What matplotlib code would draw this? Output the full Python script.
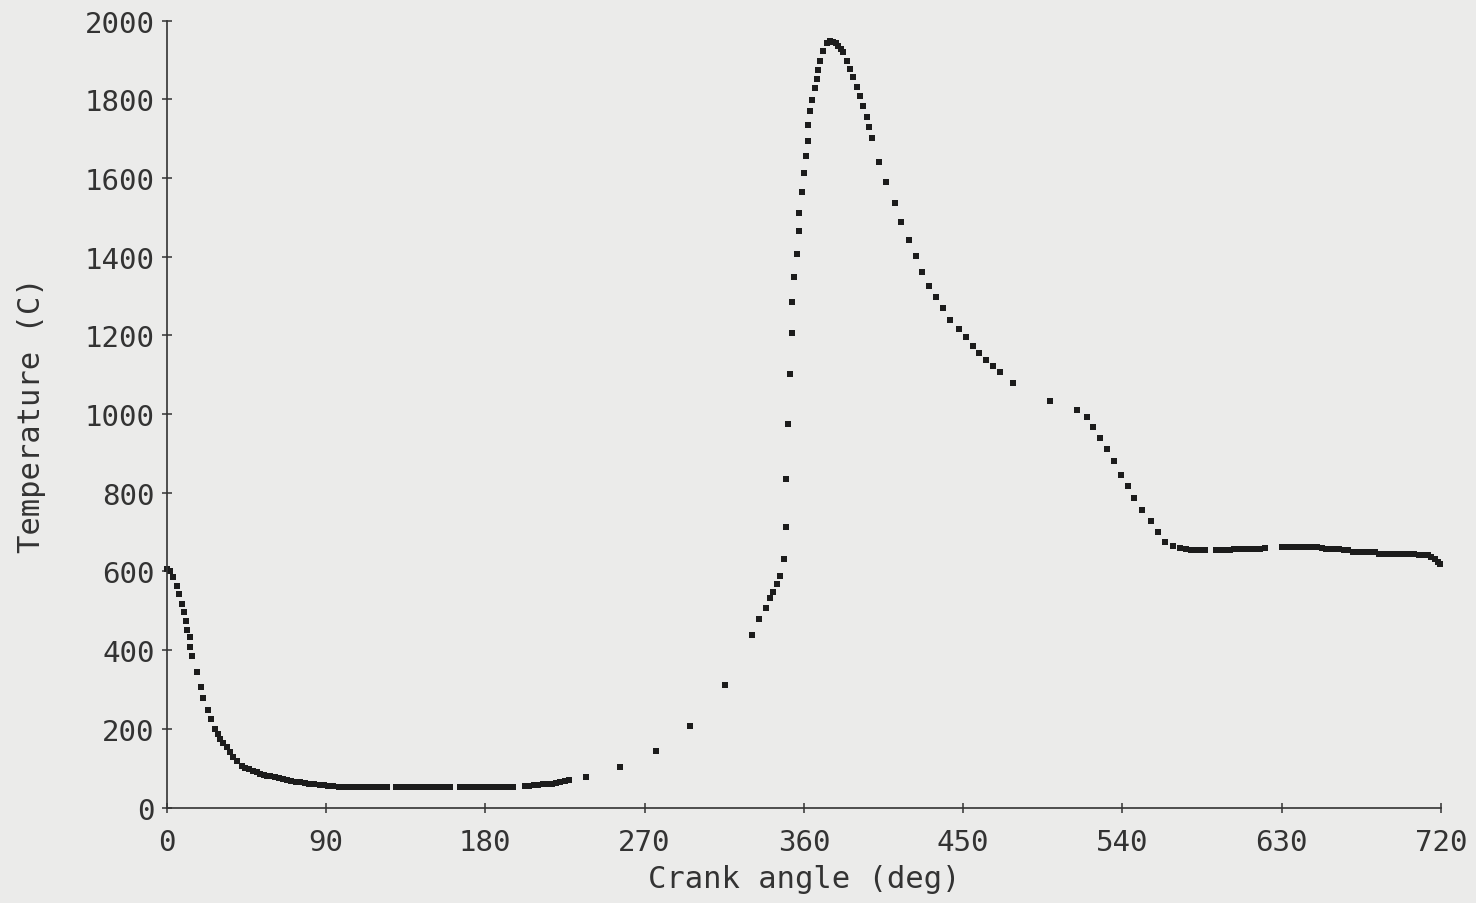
import numpy as np
import matplotlib.pyplot as plt

# Gas temperature vs crank angle, one dot per logged sample
ca_early = [0, 1.9, 3.7, 5.6, 6.9, 8.5, 9.8, 10.7, 11.6, 13.2, 13.3, 14.5,
            17.1, 19.5, 20.7, 23.5, 24.9, 27.3, 29, 30.1, 32, 33.9, 35.7,
            37.6, 40, 42.4, 44.5, 46.7, 48.9, 51, 53, 55, 56.5, 58.5, 61,
            63.5, 65.9, 68, 70.5, 73, 75.3, 78, 80.5, 83, 86.6, 89, 91, 94.1]
t_early = [605, 602, 585, 564, 543, 517, 496, 475, 452, 433, 409, 384,
           344, 307, 278, 248, 225, 200, 186, 175, 163, 153, 140,
           128, 117, 106, 101, 97, 94, 90, 86, 83, 81, 79, 77,
           74, 72, 70, 68, 66, 64, 62, 60, 59, 57, 57, 55, 54]

ca_intake = [97.5, 100, 102.5, 105, 107.5, 110, 112.5, 115, 117.5, 120, 122.5, 124.5,
             129.5, 132, 134.5, 137, 139.5, 142, 144.5, 147, 149.5, 152, 154.5, 157, 160,
             166, 168.5, 171, 173.5, 176, 178.5, 181, 183.5, 186, 188.5, 191, 193.5, 195.5,
             202.5, 205, 207.5, 210, 212.5, 215, 217.5, 220, 222.5, 225, 227.5]
t_intake = [52, 52, 52, 52, 52, 52, 52, 52, 52, 52, 52, 52,
            52, 52, 52, 52, 52, 52, 52, 52, 52, 52, 52, 52, 52,
            52, 52, 52, 52, 52, 52, 52, 52, 52, 52, 52, 52, 52,
            54, 56, 57, 58, 59, 60, 61, 63, 65, 68, 71]

ca_comp = [237, 256.4, 276.7, 295.5, 315.4, 330.8, 334.6, 338.4, 340.8, 342.4,
           344.6, 346.5, 348.8, 349.9, 349.9, 350.8, 352.2, 353.4, 353.4, 354.6,
           355.9, 357.2, 357.2, 358.8, 360.1, 361.2, 362.1, 362.5, 363.4, 364.7,
           366.3, 367.6, 368.0]
t_comp = [77, 102, 143, 208, 311, 439, 479, 508, 532, 548,
          568, 589, 632, 712, 834, 975, 1102, 1206, 1285, 1349,
          1407, 1464, 1512, 1565, 1612, 1655, 1694, 1735, 1771, 1799,
          1828, 1851, 1874]

ca_comb = [369.1, 371, 372.9, 374.7, 376.6, 378, 379.4, 381, 382.3, 384.2,
           386, 388, 389.8, 391.7, 393.6, 395.5, 396.8, 398.3]
t_comb = [1898, 1923, 1943, 1948, 1946, 1942, 1936, 1928, 1919, 1898,
          1877, 1856, 1831, 1809, 1784, 1754, 1729, 1702]

ca_exp = [402.4, 406.2, 411.3, 415, 419.4, 423.2, 426.9, 430.7, 434.6, 438.4,
          442.5, 447.6, 451.6, 455.4, 459.1, 462.9, 467, 470.8, 478.3, 499,
          514.5, 519.8, 523.5, 527.3, 531.4, 535.2, 539.2, 543, 546.7, 550.8,
          555.9, 559.9, 564, 568.7, 572.5]
t_exp = [1641, 1589, 1536, 1488, 1441, 1401, 1361, 1326, 1298, 1270,
         1240, 1216, 1195, 1172, 1155, 1138, 1121, 1108, 1080, 1033,
         1011, 992, 968, 939, 911, 880, 845, 816, 786, 757,
         729, 701, 676, 664, 659]

ca_tail = [576, 578.5, 581, 583.5, 586.5,
           593, 595.5, 598, 600.5, 603, 605.5, 608, 610.5, 613, 615.5, 618, 620.5,
           630, 632.5, 635, 637.5, 640, 642.5, 645, 647.5, 650, 652.5,
           655, 657.5, 660, 662.5, 665, 667.5,
           670, 672.5, 675, 677.5, 680, 682.5,
           685, 687.5, 690, 692.5, 695, 697.5, 700, 702.5, 705, 707.5, 710,
           712.5, 714.5, 716.5, 718.5, 719.5]
t_tail = [656, 655, 655, 655, 655,
          655, 655, 655, 655, 656, 656, 656, 657, 657, 658, 658, 660,
          661, 661, 661, 661, 661, 661, 661, 661, 661, 660,
          656, 656, 656, 656, 655, 655,
          650, 650, 650, 650, 650, 649,
          645, 645, 645, 645, 644, 644, 644, 644, 644, 643, 643,
          641, 637, 632, 625, 620]

xticks = [0, 90, 180, 270, 360, 450, 540, 630, 720]
yticks = [0, 200, 400, 600, 800, 1000, 1200, 1400, 1600, 1800, 2000]

bg = '#ebebea'
ink = '#333333'
plt.rcParams['font.family'] = ['DejaVu Sans Mono']

fig = plt.figure(figsize=(14.76, 9.04), dpi=100, facecolor=bg)
ax = fig.add_axes([0.1129, 0.1056, 0.8634, 0.8706], facecolor=bg)

ca = np.concatenate([ca_early, ca_intake, ca_comp, ca_comb, ca_exp, ca_tail])
temp = np.concatenate([t_early, t_intake, t_comp, t_comb, t_exp, t_tail])
ax.plot(ca, temp, 's', color='#1c1c1c', markersize=4.4, markeredgewidth=0, clip_on=False)

ax.set_xlim(0, 720)
ax.set_ylim(0, 2000)
ax.set_xticks(xticks)
ax.set_yticks(yticks)
for side in ['top', 'right']:
    ax.spines[side].set_visible(False)
for side in ['left', 'bottom']:
    ax.spines[side].set_color(ink)
    ax.spines[side].set_linewidth(1.2)
ax.tick_params(direction='inout', length=7, width=1.1, color=ink,
               labelsize=21, labelcolor=ink)
ax.tick_params(axis='y', pad=5)
ax.tick_params(axis='x', pad=11)

ax.set_xlabel('Crank angle (deg)', fontsize=22, color=ink, labelpad=6)
ax.set_ylabel('Temperature (C)', fontsize=22, color=ink, labelpad=28)

plt.savefig('out.png', dpi=100, facecolor=bg)
